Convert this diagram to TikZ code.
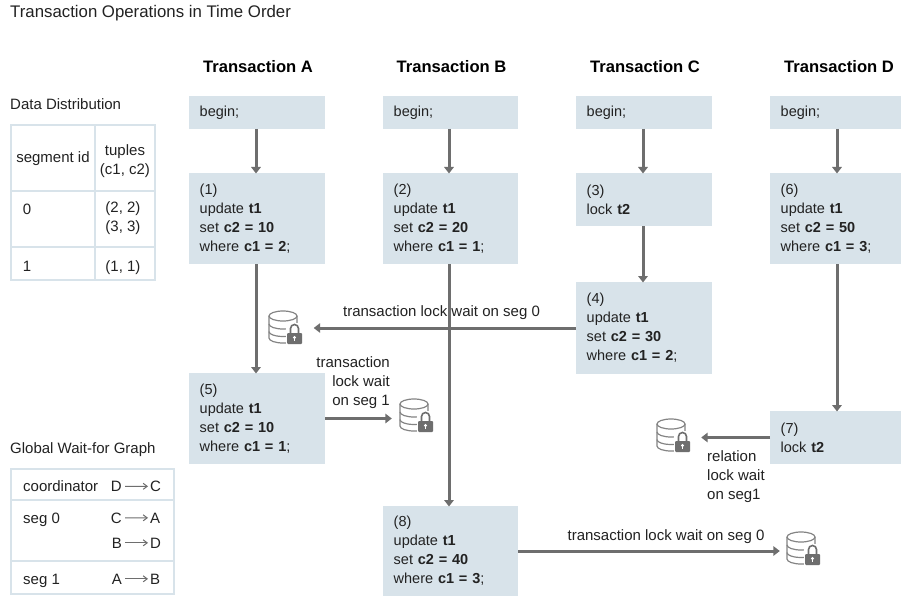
\documentclass[tikz,border=0pt]{standalone}
\usepackage{fontspec}
\setmainfont{Liberation Sans}
\usetikzlibrary{arrows.meta}
\definecolor{boxc}{HTML}{D8E3EA}
\definecolor{arrc}{HTML}{6E6E6E}
\definecolor{txt}{HTML}{222222}
\tikzset{
  x=1pt,y=-1pt,
  every node/.style={text=txt,font=\fontsize{15}{19}\selectfont},
  head/.style={font=\fontsize{16.6}{19}\selectfont\bfseries,text=black,anchor=center},
  flow/.style={draw=arrc,line width=3pt,-{Triangle[length=6.5pt,width=9.5pt]},shorten >=-0.5pt},
  wf/.style={draw=arrc,line width=1pt,-{Straight Barb[length=4pt,width=6pt]}},
  tab/.style={draw=boxc,line width=1.5pt},
  lab/.style={inner sep=0pt,anchor=base},
  dbslot/.style={minimum width=33pt,minimum height=34pt,inner sep=0pt,draw=none},
  pics/dbicon/.style={code={
    \begin{scope}[draw=arrc!85!white,line width=1.2pt]
    \draw (-16,-11) -- (-16,11) arc[start angle=180,end angle=0,x radius=14,y radius=5] -- (12,-11);
    \draw (-2,-11) ellipse[x radius=14,y radius=5];
    \draw (-16,-3) arc[start angle=180,end angle=40,x radius=14,y radius=5];
    \draw (-16,4.5) arc[start angle=180,end angle=70,x radius=14,y radius=5];
    \end{scope}
    \fill[white] (0.5,-4) rectangle (18.5,18);
    \fill[arrc,rounded corners=1pt] (2,6) rectangle (17,17);
    \draw[arrc,line width=1.6pt] (5.5,6) -- (5.5,1.5) arc[start angle=180,end angle=360,radius=4] -- (13.5,6);
    \fill[white] (9.5,10.5) circle[radius=1.7];
    \fill[white] (8.9,10.5) rectangle (10.1,14);
  }}
}
\newcommand{\opnode}[6]{% name,x,y,w,h,text
  \fill[boxc] (#2,#3) rectangle ++(#4,#5);
  \node[inner sep=0pt,anchor=west,align=left,text width={#4-10pt},font=\fontsize{14.5}{19}\selectfont] (#1) at (#2+10.5,#3+#5/2) {#6};
  \coordinate (#1N) at (#2+#4/2,#3);
  \coordinate (#1S) at (#2+#4/2,#3+#5);
  \coordinate (#1E) at (#2+#4,#3+#5/2);
  \coordinate (#1W) at (#2,#3+#5/2);
}
\begin{document}
\begin{tikzpicture}
\useasboundingbox (0,0) rectangle (901,596);
\fill[white] (0,0) rectangle (901,596);

\node[anchor=base west,inner sep=0pt,font=\fontsize{16.8}{19}\selectfont] (title) at (10,17.5) {Transaction Operations in Time Order};

\node[head] (hA) at (258,67) {Transaction A};
\node[head] (hB) at (451.5,67) {Transaction B};
\node[head] (hC) at (645,67) {Transaction C};
\node[head] (hD) at (839,67) {Transaction D};

% column A
\opnode{bA}{189}{96}{136}{33}{begin;}
\opnode{a1}{189}{173}{136}{91}{(1)\\update \textbf{t1}\\set \textbf{c2 = 10}\\where \textbf{c1 = 2};}
\opnode{a5}{189}{373}{136}{91}{(5)\\update \textbf{t1}\\set \textbf{c2 = 10}\\where \textbf{c1 = 1};}
% column B
\opnode{bB}{383}{96}{135}{33}{begin;}
\opnode{b2}{383}{173}{135}{91}{(2)\\update \textbf{t1}\\set \textbf{c2 = 20}\\where \textbf{c1 = 1};}
\opnode{b8}{383}{506}{135}{90}{(8)\\update \textbf{t1}\\set \textbf{c2 = 40}\\where \textbf{c1 = 3};}
% column C
\opnode{bC}{576}{96}{136}{33}{begin;}
\opnode{c3}{576}{173}{136}{53}{(3)\\lock \textbf{t2}}
\opnode{c4}{576}{282}{136}{92}{(4)\\update \textbf{t1}\\set \textbf{c2 = 30}\\where \textbf{c1 = 2};}
% column D
\opnode{bD}{770}{96}{131}{33}{begin;}
\opnode{d6}{770}{173}{131}{91}{(6)\\update \textbf{t1}\\set \textbf{c2 = 50}\\where \textbf{c1 = 3};}
\opnode{d7}{770}{411}{131}{53}{(7)\\lock \textbf{t2}}

% lock icons
\node[dbslot] (db1) at (285,327) {}; \pic at (db1) {dbicon};
\node[dbslot] (db2) at (416,415) {}; \pic at (db2) {dbicon};
\node[dbslot] (db3) at (673,435) {}; \pic at (db3) {dbicon};
\node[dbslot] (db4) at (803,548) {}; \pic at (db4) {dbicon};

% labels
\node[lab] (l1) at (441.5,316) {transaction lock wait on seg 0};
\node[inner sep=0pt,anchor=north east,align=right] (l2) at (390,356) {transaction\\lock wait\\on seg 1};
\node[inner sep=0pt,anchor=north west,align=left] (l3) at (707,450) {relation\\lock wait\\on seg1};
\node[lab] (l4) at (666,540) {transaction lock wait on seg 0};

% flows
\draw[flow] ([xshift=-1pt]bAS) -- ([xshift=-1pt]a1N);
\draw[flow] ([xshift=-1pt]a1S) -- ([xshift=-1pt]a5N);
\draw[flow] ([xshift=-1.5pt]bBS) -- ([xshift=-1.5pt]b2N);
\draw[flow] ([xshift=-1.5pt]b2S) -- ([xshift=-1.5pt]b8N);
\draw[flow] ([xshift=-1pt]bCS) -- ([xshift=-1pt]c3N);
\draw[flow] ([xshift=-1pt]c3S) -- ([xshift=-1pt]c4N);
\draw[flow] ([xshift=1.5pt]bDS) -- ([xshift=1.5pt]d6N);
\draw[flow] ([xshift=1.5pt]d6S) -- ([xshift=1.5pt]d7N);
\draw[flow] (c4W) -- ([xshift=12.5pt]db1.east |- c4W);
\draw[flow] (a5E) -- ([xshift=-8pt]db2.west |- a5E);
\draw[flow] (d7W) -- ([xshift=12pt]db3.east |- d7W);
\draw[flow] (b8E) -- ([xshift=-7pt]db4.west |- b8E);

% data distribution
\node[anchor=base west,inner sep=0pt] (dd) at (10,110) {Data Distribution};
\draw[tab] (11,125) rectangle (155,280);
\draw[tab] (95,125) -- (95,280);
\draw[tab] (11,191) -- (155,191);
\draw[tab] (11,247) -- (155,247);
\node[lab] (t1) at (53,163) {segment id};
\node[inner sep=0pt,align=center,anchor=center] (t2) at (125,161) {tuples\\(c1, c2)};
\node[lab] (t3) at (27,214) {0};
\node[inner sep=0pt,align=center,anchor=north] (t4) at (123,201) {(2, 2)\\(3, 3)};
\node[lab] (t5) at (27,271) {1};
\node[lab] (t6) at (123,271) {(1, 1)};

% wait-for graph
\node[anchor=base west,inner sep=0pt] (gw) at (10,453) {Global Wait-for Graph};
\draw[tab] (11,469) rectangle (174,594);
\draw[tab] (11,500) -- (174,500);
\draw[tab] (11,561) -- (174,561);
\node[anchor=base west,inner sep=0pt] (r1) at (23,491.5) {coordinator};
\node[anchor=base west,inner sep=0pt] (r2) at (23,523) {seg 0};
\node[anchor=base west,inner sep=0pt] (r3) at (23,584) {seg 1};
\node[lab,anchor=base east] (w1a) at (122,491.5) {D};
\node[lab,anchor=base west] (w1b) at (150,491.5) {C};
\node[lab,anchor=base east] (w2a) at (122,523) {C};
\node[lab,anchor=base west] (w2b) at (150,523) {A};
\node[lab,anchor=base east] (w3a) at (122,548) {B};
\node[lab,anchor=base west] (w3b) at (150,548) {D};
\node[lab,anchor=base east] (w4a) at (122,584) {A};
\node[lab,anchor=base west] (w4b) at (150,584) {B};
\draw[wf] ([xshift=3pt]w1a.east) -- ([xshift=-2pt]w1b.west);
\draw[wf] ([xshift=3pt]w2a.east) -- ([xshift=-2pt]w2b.west);
\draw[wf] ([xshift=3pt]w3a.east) -- ([xshift=-2pt]w3b.west);
\draw[wf] ([xshift=3pt]w4a.east) -- ([xshift=-2pt]w4b.west);
\end{tikzpicture}
\end{document}
